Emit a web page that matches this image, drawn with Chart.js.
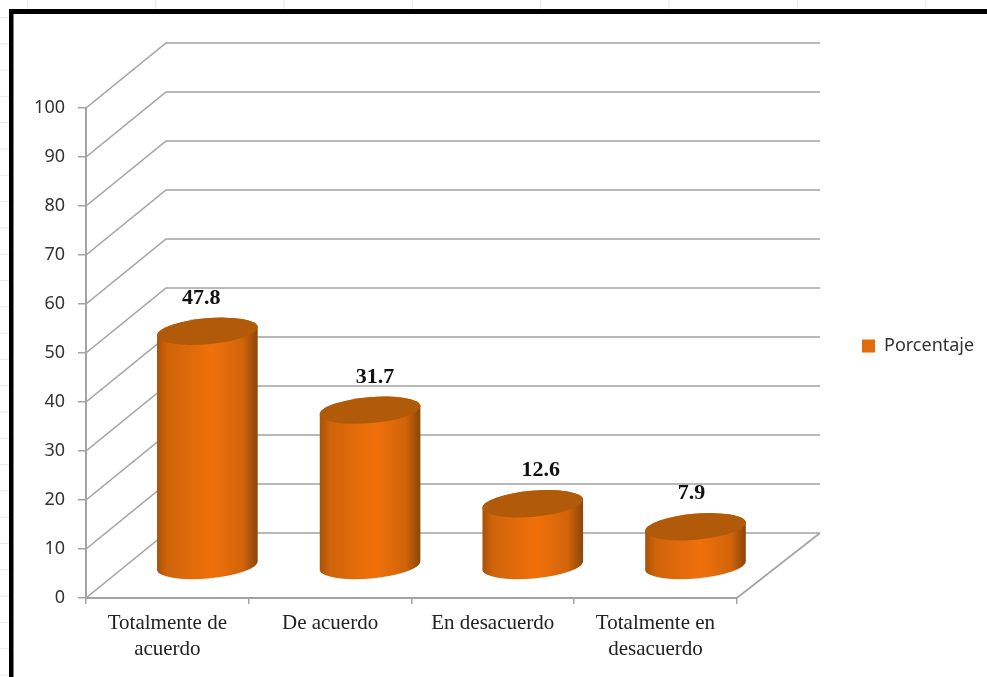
<!DOCTYPE html>
<html>
<head>
<meta charset="utf-8">
<style>
  html, body { margin: 0; background: #fff; }
  canvas { display: block; }
</style>
<script src="https://cdn.jsdelivr.net/npm/chart.js@4"></script>
</head>
<body>
<canvas id="chart" width="987" height="677"></canvas>
<script>
const categories = [['Totalmente de', 'acuerdo'], 'De acuerdo', 'En desacuerdo', ['Totalmente en', 'desacuerdo']];
const porcentaje = [47.8, 31.7, 12.6, 7.9];
const seriesName = 'Porcentaje';

// depth of the fake 3d box
const DEPTH_X = 80;
const DEPTH_Y = -65;
const WALL_RIGHT = 820;
const labelShift = [-6, 5, 8, -4];
const LINE = '#a3a3a3';

function cylinder(ctx, cx, yTop, yBase, rx, ry) {
  const rot = -5 * Math.PI / 180;
  const dx = rx * Math.cos(rot);
  const grad = ctx.createLinearGradient(cx - dx, 0, cx + dx, 0);
  grad.addColorStop(0, '#a85208');
  grad.addColorStop(0.1, '#d0640a');
  grad.addColorStop(0.55, '#f0700a');
  grad.addColorStop(0.85, '#d2640a');
  grad.addColorStop(1, '#8a4608');

  ctx.beginPath();
  ctx.ellipse(cx, yBase, rx, ry, rot, 0, Math.PI);
  ctx.ellipse(cx, yTop, rx, ry, rot, Math.PI, 2 * Math.PI);
  ctx.closePath();
  ctx.fillStyle = grad;
  ctx.fill();

  ctx.beginPath();
  ctx.ellipse(cx, yTop, rx, ry, rot, 0, 2 * Math.PI);
  ctx.fillStyle = '#b05a0a';
  ctx.fill();
}

const sheetPlugin = {
  id: 'sheet',
  beforeDraw(chart) {
    const ctx = chart.ctx;
    ctx.save();
    ctx.fillStyle = '#fff';
    ctx.fillRect(0, 0, 987, 677);
    // faint spreadsheet cells behind the pasted picture
    ctx.strokeStyle = '#e8e8e8';
    ctx.lineWidth = 1;
    ctx.beginPath();
    for (let x = 27; x < 987; x += 128.3) {
      ctx.moveTo(x + 0.5, 0);
      ctx.lineTo(x + 0.5, 9);
    }
    for (let y = 17; y < 677; y += 26.3) {
      ctx.moveTo(0, y + 0.5);
      ctx.lineTo(9, y + 0.5);
    }
    ctx.stroke();
    // black frame
    ctx.fillStyle = '#000';
    ctx.fillRect(9, 9, 978, 5);
    ctx.fillRect(9, 9, 4.5, 668);
    ctx.restore();
  }
};

const boxPlugin = {
  id: 'box',
  afterLayout(chart) {
    // legend sits beside the middle of the wall, not the middle of the canvas
    const legend = chart.legend;
    const h = legend.bottom - legend.top;
    const w = legend.right - legend.left;
    legend.top = 346 - h / 2;
    legend.bottom = 346 + h / 2;
    legend.left = 852;
    legend.right = 852 + w;
  },
  beforeDatasetsDraw(chart) {
    const { ctx, scales: { x, y } } = chart;
    const left = x.left;
    const right = x.right;
    ctx.save();
    ctx.strokeStyle = LINE;
    ctx.lineWidth = 1.6;
    ctx.beginPath();
    y.ticks.forEach(t => {
      const py = y.getPixelForValue(t.value);
      ctx.moveTo(left, py);
      ctx.lineTo(left + DEPTH_X, py + DEPTH_Y);
      ctx.lineTo(WALL_RIGHT, py + DEPTH_Y);
    });
    const y0 = y.getPixelForValue(0);
    ctx.moveTo(right, y0);
    ctx.lineTo(WALL_RIGHT, y0 + DEPTH_Y);
    ctx.stroke();
    ctx.restore();
  },
  beforeDatasetDraw(chart, args) {
    const { ctx, scales: { x, y } } = chart;
    const vals = chart.data.datasets[args.index].data;
    ctx.save();
    vals.forEach((v, i) => {
      const cx = x.getPixelForValue(i) + DEPTH_X / 2;
      const yBase = y.getPixelForValue(0) + DEPTH_Y / 2;
      const yTop = y.getPixelForValue(v) + DEPTH_Y / 2;
      cylinder(ctx, cx, yTop, yBase, 50.5, 13);
    });
    ctx.restore();
    return false;
  },
  afterDatasetsDraw(chart) {
    const { ctx, scales: { x, y } } = chart;
    ctx.save();
    ctx.font = 'bold 22px "Liberation Serif"';
    ctx.fillStyle = '#111';
    ctx.textAlign = 'center';
    ctx.textBaseline = 'middle';
    porcentaje.forEach((v, i) => {
      const cx = x.getPixelForValue(i) + DEPTH_X / 2 + labelShift[i];
      const yTop = y.getPixelForValue(v) + DEPTH_Y / 2;
      ctx.fillText(v.toFixed(1), cx, yTop - 33);
    });
    ctx.restore();
  }
};

new Chart(document.getElementById('chart'), {
  type: 'bar',
  data: {
    labels: categories,
    datasets: [{
      label: seriesName,
      data: porcentaje,
      backgroundColor: '#e36c0a'
    }]
  },
  plugins: [sheetPlugin, boxPlugin],
  options: {
    responsive: false,
    animation: false,
    layout: { padding: { top: 108, left: 0, right: 118, bottom: 0 } },
    plugins: {
      tooltip: { enabled: false },
      legend: {
        position: 'right',
        labels: {
          boxWidth: 13,
          boxHeight: 13,
          padding: 10,
          color: '#333',
          font: { family: '"Noto Sans"', size: 18 }
        }
      }
    },
    scales: {
      x: {
        afterFit(s) { s.height = 79; },
        border: { color: LINE, width: 2 },
        grid: { drawOnChartArea: false, color: LINE, tickLength: 6, lineWidth: 1.5 },
        ticks: {
          maxRotation: 0,
          autoSkip: false,
          padding: 6,
          color: '#222',
          font: { family: '"Liberation Serif"', size: 21, lineHeight: 1.24 }
        }
      },
      y: {
        min: 0,
        max: 100,
        afterFit(s) { s.width = 86; },
        border: { color: LINE, width: 2 },
        grid: { drawOnChartArea: false, color: LINE, tickLength: 8, lineWidth: 1.5 },
        ticks: {
          stepSize: 10,
          padding: 13,
          color: '#333',
          font: { family: '"Noto Sans"', size: 18 }
        }
      }
    }
  }
});
</script>
</body>
</html>
